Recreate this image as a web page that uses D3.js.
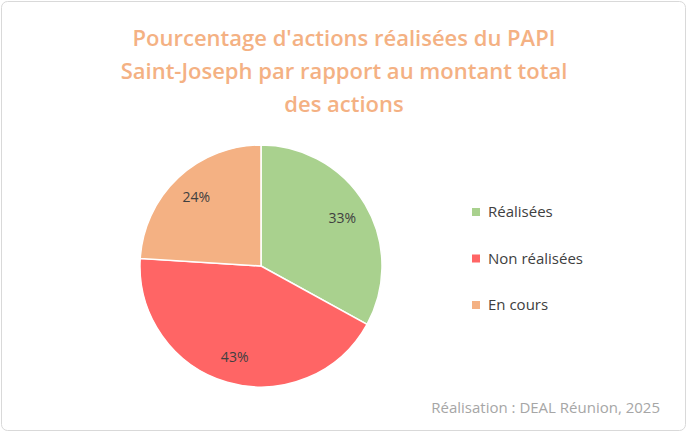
<!DOCTYPE html>
<html><head><meta charset="utf-8">
<script src="https://cdn.jsdelivr.net/npm/d3@7"></script>
<style>body{margin:0;background:#fff}svg{font-family:"Open Sans",sans-serif}</style>
</head><body>
<svg id="c" width="688" height="433"></svg>
<script>
const categories = ["Réalisées", "Non réalisées", "En cours"];
const values = [33, 43, 24];
const colors = ["#A9D18E", "#FF6565", "#F4B183"];
const titleLines = ["Pourcentage d'actions réalisées du PAPI", "Saint-Joseph par rapport au montant total", "des actions"];
const footer = "Réalisation : DEAL Réunion, 2025";

const svg = d3.select("#c");
svg.append("rect").attr("x",1.5).attr("y",1.5).attr("width",684).attr("height",429).attr("rx",6)
  .attr("fill","#fff").attr("stroke","#d9d9d9");
svg.selectAll("text.t").data(titleLines).enter().append("text")
  .attr("x",344).attr("y",(d,i)=>46+i*33).attr("text-anchor","middle")
  .attr("font-size",22).attr("font-weight","600").attr("fill","#F4B183").text(d=>d);

const cx=261, cy=266, r=121;
const pie = d3.pie().sort(null)(values);
const arc = d3.arc().innerRadius(0).outerRadius(r);
const lab = d3.arc().innerRadius(r*0.78).outerRadius(r*0.78);
const g = svg.append("g").attr("transform",`translate(${cx},${cy})`);
g.selectAll("path").data(pie).enter().append("path").attr("d",arc)
  .attr("fill",(d,i)=>colors[i]).attr("stroke","#fff").attr("stroke-width",1.5);
g.selectAll("text").data(pie).enter().append("text")
  .attr("transform",d=>`translate(${lab.centroid(d)})`).attr("text-anchor","middle").attr("dy","0.35em")
  .attr("font-size",14).attr("fill","#404040").text(d=>d.data+"%");

const y = d3.scalePoint().domain(categories).range([212,305]);
const lg = svg.selectAll("g.l").data(categories).enter().append("g").attr("transform",d=>`translate(472,${y(d)})`);
lg.append("rect").attr("x",0).attr("y",-4).attr("width",8).attr("height",8).attr("fill",(d,i)=>colors[i]);
lg.append("text").attr("x",16).attr("dy","0.35em").attr("font-size",15).attr("fill","#404040").text(d=>d);

svg.append("text").attr("x",660).attr("y",413).attr("text-anchor","end").attr("font-size",15)
  .attr("fill","#a6a6a6").text(footer);
</script></body></html>
